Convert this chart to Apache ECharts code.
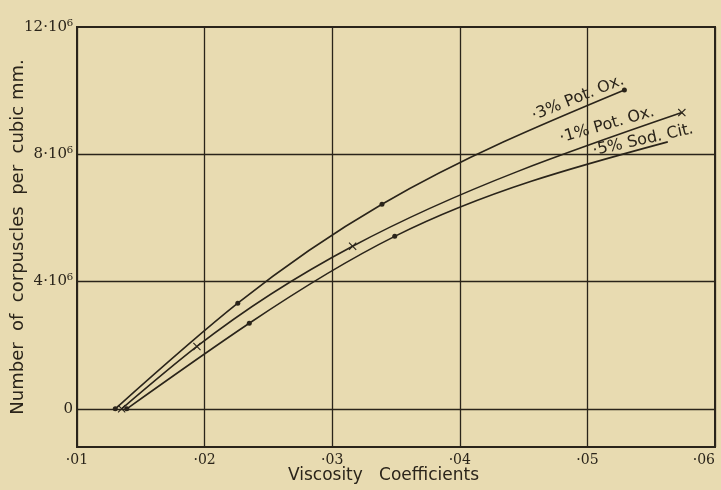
<!DOCTYPE html>
<html><head><meta charset="utf-8">
<script src="https://cdn.jsdelivr.net/npm/echarts@6/dist/echarts.min.js"></script>
<style>html,body{margin:0;padding:0;background:#e8dbb1;}#c{width:721px;height:490px;}</style>
</head><body><div id="c"></div>
<script>
// Data
const xTicks = [0.01, 0.02, 0.03, 0.04, 0.05, 0.06];
const yTicks = [0, 4e6, 8e6, 12e6];
const potOx3X = [0.0130, 0.0226, 0.0339, 0.0529];
const potOx3Y = [0, 3.32e6, 6.43e6, 10.02e6];
const potOx1X = [0.0135, 0.0194, 0.0316, 0.0574];
const potOx1Y = [0, 1.96e6, 5.11e6, 9.31e6];
const sodCit5X = [0.0139, 0.0235, 0.0349, 0.0563];
const sodCit5Y = [0, 2.69e6, 5.42e6, 8.39e6];
const seriesNames = ['·3% Pot. Ox.', '·1% Pot. Ox.', '·5% Sod. Cit.'];

const ink = '#2a241a';
const crossPath = 'path://M0,1L1,0L5,4L9,0L10,1L6,5L10,9L9,10L5,6L1,10L0,9L4,5Z';

function pts(xs, ys) { return xs.map((x, i) => [x, ys[i]]); }

// Natural cubic spline (in pixel space) drawn as Bezier segments
function splinePath(P) {
  const n = P.length - 1;
  const h = [], M = new Array(n + 1).fill(0);
  for (let i = 0; i < n; i++) h.push(P[i + 1][0] - P[i][0]);
  if (n >= 2) {
    const a = [], b = [], c = [], r = [];
    for (let i = 1; i < n; i++) {
      a.push(h[i - 1]); b.push(2 * (h[i - 1] + h[i])); c.push(h[i]);
      r.push(6 * ((P[i + 1][1] - P[i][1]) / h[i] - (P[i][1] - P[i - 1][1]) / h[i - 1]));
    }
    const m = b.length;
    for (let i = 1; i < m; i++) { const w = a[i] / b[i - 1]; b[i] -= w * c[i - 1]; r[i] -= w * r[i - 1]; }
    const sol = new Array(m);
    sol[m - 1] = r[m - 1] / b[m - 1];
    for (let i = m - 2; i >= 0; i--) sol[i] = (r[i] - c[i] * sol[i + 1]) / b[i];
    for (let i = 0; i < m; i++) M[i + 1] = sol[i];
  }
  let d = 'M' + P[0][0] + ',' + P[0][1];
  for (let i = 0; i < n; i++) {
    const s = (P[i + 1][1] - P[i][1]) / h[i];
    const d0 = s - h[i] * (2 * M[i] + M[i + 1]) / 6;
    const d1 = s + h[i] * (M[i] + 2 * M[i + 1]) / 6;
    const t = h[i] / 3;
    d += 'C' + (P[i][0] + t) + ',' + (P[i][1] + d0 * t) + ' ' +
         (P[i + 1][0] - t) + ',' + (P[i + 1][1] - d1 * t) + ' ' +
         P[i + 1][0] + ',' + P[i + 1][1];
  }
  return d;
}

function curveSeries(data) {
  return {
    type: 'custom', coordinateSystem: 'cartesian2d', data: data, encode: { x: 0, y: 1 },
    silent: true, z: 4, clip: true,
    renderItem: function (params, api) {
      if (params.dataIndex !== 0) return null;
      const P = data.map(p => api.coord(p));
      return { type: 'path', shape: { pathData: splinePath(P) },
        style: { stroke: ink, lineWidth: 1.6, fill: null } };
    }
  };
}

const chart = echarts.init(document.getElementById('c'));
const base = {
  type: 'line', showSymbol: true,
  lineStyle: { opacity: 0 },
  itemStyle: { color: ink },
  z: 5
};
const s1 = pts(potOx3X, potOx3Y);
const s2 = pts(potOx1X, potOx1Y);
const s3raw = pts(sodCit5X, sodCit5Y);
const s3 = s3raw.map((p, i, a) => i === a.length - 1 ? { value: p, symbol: 'none' } : p);

chart.setOption({
  backgroundColor: '#e8dbb1',
  animation: false,
  grid: { left: 77, right: 6, top: 27, bottom: 43, show: true, borderColor: ink, borderWidth: 2,
    backgroundColor: 'transparent', containLabel: false, outerBoundsMode: 'none' },
  xAxis: {
    type: 'value', min: xTicks[0], max: xTicks[xTicks.length - 1], interval: 0.01,
    axisLine: { show: false }, axisTick: { show: false },
    splitLine: { show: true, lineStyle: { color: ink, width: 1.3 } },
    axisLabel: { color: ink, fontFamily: 'DejaVu Serif', fontSize: 14, margin: 6, alignMaxLabel: 'right',
      formatter: v => '·' + String(Math.round(v * 100)).padStart(2, '0') },
    name: 'Viscosity   Coefficients', nameLocation: 'middle', nameGap: 20, nameMoveOverlap: false,
    nameTextStyle: { color: ink, fontFamily: 'DejaVu Sans', fontSize: 17, padding: [0, 25, 0, 0] }
  },
  yAxis: {
    type: 'value', min: -1.2e6, max: 12e6,
    axisLine: { show: false }, axisTick: { show: false }, splitLine: { show: false },
    axisLabel: { color: ink, fontFamily: 'DejaVu Serif', fontSize: 15, margin: 4,
      customValues: yTicks,
      formatter: v => v === 0 ? '0' : (v / 1e6) + '·10⁶' },
    name: 'Number  of  corpuscles  per  cubic mm.', nameLocation: 'middle', nameGap: 50, nameMoveOverlap: false,
    nameTextStyle: { color: ink, fontFamily: 'DejaVu Sans', fontSize: 18 }
  },
  series: [
    curveSeries(s1), curveSeries(s2), curveSeries(s3raw),
    Object.assign({}, base, { name: seriesNames[0], data: s1, symbol: 'circle', symbolSize: 5,
      markLine: { silent: true, symbol: 'none', label: { show: false },
        lineStyle: { color: ink, width: 1.3, type: 'solid', opacity: 1 },
        data: yTicks.slice(0, 3).map(v => ({ yAxis: v })) } }),
    Object.assign({}, base, { name: seriesNames[1], data: s2, symbol: crossPath, symbolSize: 8 }),
    Object.assign({}, base, { name: seriesNames[2], data: s3, symbol: 'circle', symbolSize: 5 })
  ],
  graphic: [
    { type: 'text', x: 578, y: 98, rotation: 22 * Math.PI / 180,
      style: { text: seriesNames[0], fill: ink, font: '16px "DejaVu Sans"', align: 'center', verticalAlign: 'middle' } },
    { type: 'text', x: 607, y: 125, rotation: 16 * Math.PI / 180,
      style: { text: seriesNames[1], fill: ink, font: '16px "DejaVu Sans"', align: 'center', verticalAlign: 'middle' } },
    { type: 'text', x: 643, y: 140, rotation: 12.5 * Math.PI / 180,
      style: { text: seriesNames[2], fill: ink, font: '16px "DejaVu Sans"', align: 'center', verticalAlign: 'middle' } }
  ]
});
</script></body></html>
